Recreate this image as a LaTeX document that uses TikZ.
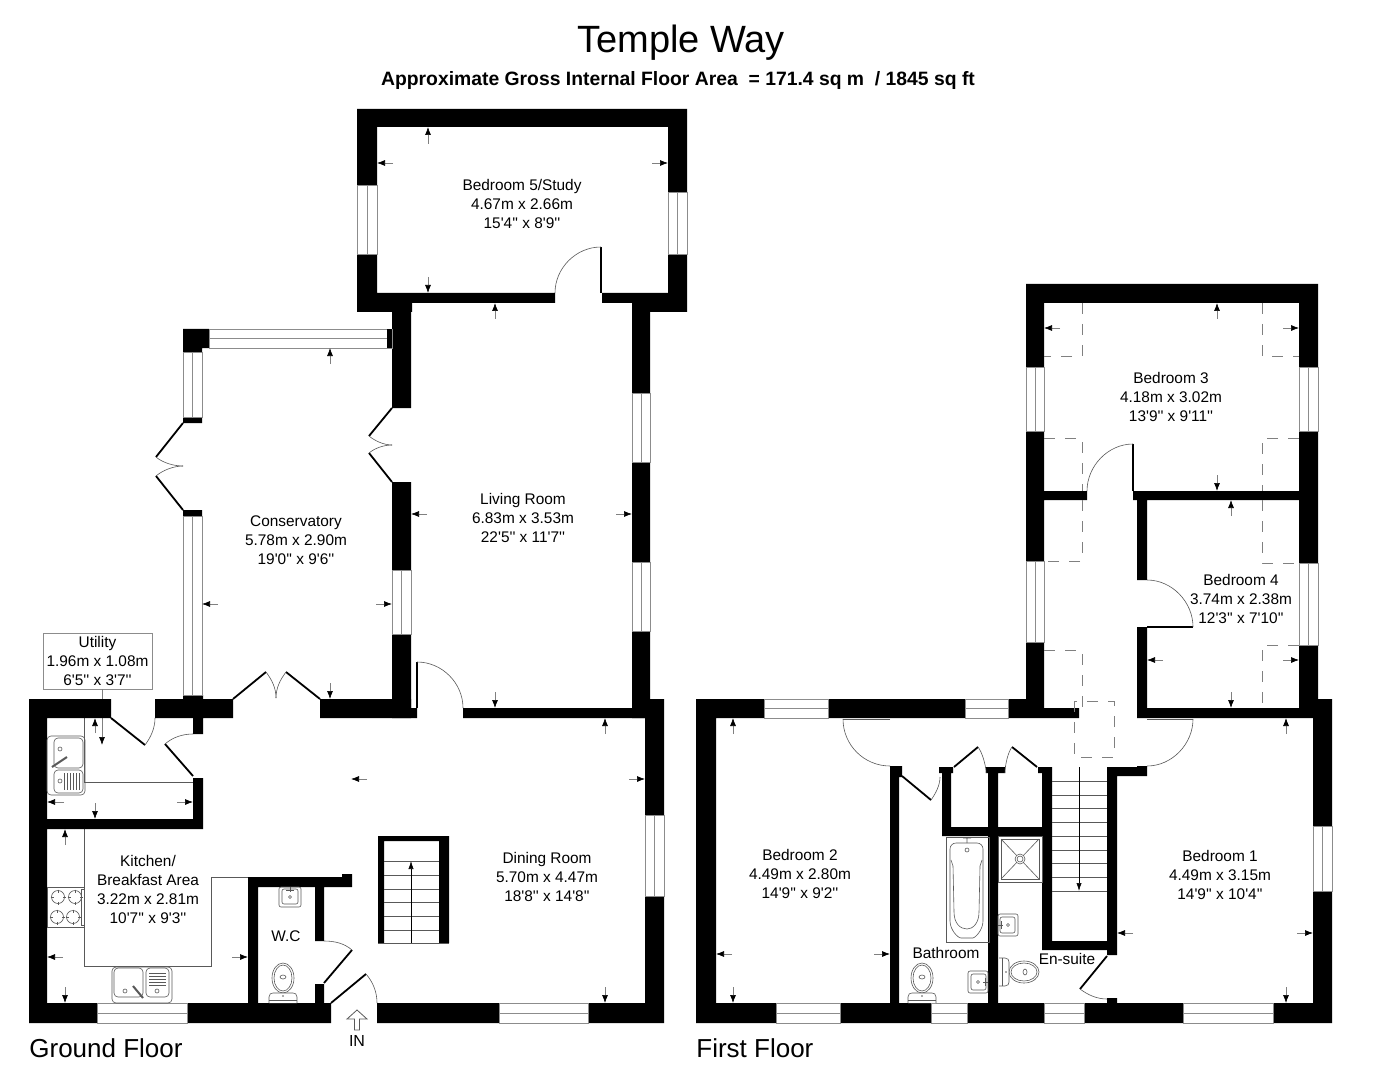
\documentclass[tikz,border=0pt]{standalone}
\usepackage{fontspec}
\setmainfont{Liberation Sans}[Ligatures=TeXOff]
\usetikzlibrary{arrows.meta}
\tikzset{>=latex}
\definecolor{fixture}{gray}{0.35}
\definecolor{glazing}{gray}{0.55}
\tikzset{
  wall/.style={fill=black},
  win/.style={draw=glazing,fill=white,line width=0.45pt},
  leaf/.style={black,line width=0.9pt},
  swing/.style={fixture,line width=0.3pt},
  dimline/.style={draw=gray,line width=0.35pt,-{Latex[black,length=4pt,width=3pt]}},
  ware/.style={draw=fixture,line width=0.3pt},
  slope/.style={draw=gray,line width=0.4pt,dash pattern=on 5.5pt off 5pt},
  roomlabel/.style={align=center,font=\fontsize{7.7}{9.5}\selectfont,inner sep=0pt},
  floorlabel/.style={anchor=west,font=\fontsize{13}{15}\selectfont,inner sep=0pt},
  toilet/.pic={
    \draw[ware] (0,-25) ellipse (11 and 15);
    \draw[ware] (0,-25) ellipse (9 and 13);
    \draw[ware] (0,-26) ellipse (3 and 2);
    \draw[ware,fill=white] (-14,0) -- (-14,-6) .. controls (-14,-9) and (-12,-10) .. (-10,-10)
      -- (10,-10) .. controls (12,-10) and (14,-9) .. (14,-6) -- (14,0);
    \draw[ware] (-14,-3) -- (14,-3);
    \fill[fixture] (0,-7) circle (0.9);
  },
  basin/.pic={
    \draw[ware,rounded corners=1pt] (-11,0) rectangle (11,20);
    \draw[ware,rounded corners=1pt] (-8,2) rectangle (8,17);
    \draw[ware] (0,0) -- (0,5) (-4,3) -- (4,3);
    \draw[ware] (0,10) circle (1.5);
  },
  burner/.pic={
    \draw[ware] (0,0) circle (6.5);
    \draw[ware] (-7.5,0) -- (-4.5,0) (7.5,0) -- (4.5,0) (0,-7.5) -- (0,-4.5) (0,7.5) -- (0,4.5);
  },
}
\newcommand{\WinH}[4]{\draw[win] (#1,#3) rectangle (#2,#4); \draw[glazing,line width=0.45pt] (#1,{(#3+#4)/2}) -- (#2,{(#3+#4)/2});}
\newcommand{\WinV}[4]{\draw[win] (#1,#3) rectangle (#2,#4); \draw[glazing,line width=0.45pt] ({(#1+#2)/2},#3) -- ({(#1+#2)/2},#4);}

\begin{document}
\begin{tikzpicture}[x=0.5pt,y=-0.5pt]
  \useasboundingbox[fill=white] (0,0) rectangle (1374,1080);

  % titles
  \node[inner sep=0pt,font=\fontsize{19}{21}\selectfont] (title) at (681,42.5) {Temple Way};
  \node[inner sep=0pt,font=\fontsize{9.67}{11}\selectfont\bfseries] (area) at (678,80.5) {Approximate Gross Internal Floor Area\ \ = 171.4 sq m\ \ / 1845 sq ft};
  \node[floorlabel] (ground) at (29,1048) {Ground Floor};
  \node[floorlabel] (first) at (696,1048) {First Floor};

  % worktops
  \draw[ware] (84,718) -- (84,782) -- (193,782);
  \draw[ware] (84,829) -- (84,966) -- (211,966) -- (211,877) -- (248,877);

  % utility label and its leader
  \node[draw=glazing,line width=0.4pt,roomlabel,minimum width=54.5pt,minimum height=28pt] (utility) at (97.5,661) {Utility\\1.96m x 1.08m\\6'5'' x 3'7''};
  \coordinate (utilitytip) at (102,745);
  \draw[dimline] (utility.south -| utilitytip) -- (utilitytip);

  % ground floor walls
  \fill[wall] (29,699) rectangle (47,1023) (29,1003) rectangle (331,1023)
    (29,699) rectangle (111,718) (155,699) rectangle (233,718)
    (183,695) rectangle (203,718) (193,718) rectangle (203,734)
    (320,699) rectangle (411,718) (411,708) rectangle (417,718)
    (193,778) rectangle (203,829)
    (47,819) rectangle (203,829) (248,877) rectangle (258,1003)
    (248,877) rectangle (352,887) (342,874) rectangle (352,887)
    (315,887) rectangle (324,941) (315,984) rectangle (324,1003)
    (377,1003) rectangle (664,1023) (645,699) rectangle (664,1023)
    (463,708) rectangle (645,718);
  \fill[wall] (392,303) rectangle (411,408) (392,482) rectangle (411,718)
    (357,109) rectangle (687,127) (357,109) rectangle (377,312)
    (668,109) rectangle (687,312) (377,293) rectangle (555,303)
    (602,293) rectangle (668,303) (357,303) rectangle (412,312)
    (632,293) rectangle (650,718) (632,303) rectangle (687,312);
  \fill[wall] (183,329) rectangle (209,348) (183,329) rectangle (202,352)
    (183,417) rectangle (202,423) (183,510) rectangle (202,516);

  % ground floor windows
  \WinH{209}{392}{329}{348}
  \fill[wall] (387,329) rectangle (392,348);
  \WinV{183}{202}{352}{417}
  \WinV{183}{202}{516}{695}
  \WinV{392}{411}{570}{634}
  \WinV{357}{377}{185}{254}
  \WinV{668}{687}{192}{254}
  \WinV{632}{650}{393}{462}
  \WinV{632}{650}{562}{631}
  \WinV{645}{664}{815}{896}
  \WinH{97}{187}{1003}{1023}
  \WinH{499}{588}{1003}{1023}

  % ground floor doors
  \draw[leaf] (601,293) -- (601,247);
  \draw[swing] (601,247) .. controls (576,247) and (555,268) .. (555,293);
  \draw[leaf] (417,708) -- (417,662);
  \draw[swing] (417,662) .. controls (442,662) and (463,683) .. (463,708);
  \draw[leaf] (111,718) -- (145,745);
  \draw[swing] (145,745) .. controls (151,737) and (155,728) .. (155,718);
  \draw[leaf] (193,776) -- (165,744);
  \draw[swing] (165,744) .. controls (173,737) and (183,734) .. (193,734);
  \draw[leaf] (324,983) -- (352,950);
  \draw[swing] (352,950) .. controls (344,943) and (334,941) .. (324,941);
  \draw[leaf] (331,1003) -- (366,974);
  \draw[swing] (366,974) .. controls (373,982) and (377,992) .. (377,1003);
  \draw[leaf] (233,699) -- (266,672) (320,699) -- (286,672);
  \draw[swing] (266,672) .. controls (272,680) and (276,688) .. (276,698);
  \draw[swing] (286,672) .. controls (280,680) and (276,688) .. (276,698);
  \draw[leaf] (392,408) -- (369,436) (392,482) -- (369,453);
  \draw[swing] (369,436) .. controls (375,441) and (384,445) .. (392,445);
  \draw[swing] (369,453) .. controls (375,448) and (384,445) .. (392,445);
  \draw[leaf] (183,423) -- (156,457) (183,510) -- (156,476);
  \draw[swing] (156,457) .. controls (163,463) and (174,466) .. (183,466);
  \draw[swing] (156,476) .. controls (163,470) and (174,466) .. (183,466);

  % ground floor stairs
  \fill[wall] (378,836) rectangle (449,841) (378,836) rectangle (384,943) (439,836) rectangle (449,943);
  \draw[ware] (384,861) -- (439,861) (384,875) -- (439,875) (384,889) -- (439,889)
    (384,902) -- (439,902) (384,916) -- (439,916) (384,930) -- (439,930) (378,943) -- (449,943);
  \draw[black,line width=0.3pt,-{Latex[length=4pt,width=2.6pt]}] (411,943) -- (411,861);

  % utility sink
  \draw[ware,rounded corners=2pt] (47,736) rectangle (85,795);
  \draw[ware,rounded corners=2pt] (54,738) rectangle (83,768);
  \draw[ware,rounded corners=2pt] (54,770) rectangle (83,793);
  \draw[ware] (60,749) circle (2) (60,781) circle (2);
  \draw[fixture,line width=1pt] (52,767) -- (67,757);
  \draw[ware] (64,773) -- (64,790) (67,773) -- (67,790) (70,773) -- (70,790) (73,773) -- (73,790) (76,773) -- (76,790) (79,773) -- (79,790);

  % kitchen sink
  \draw[ware,rounded corners=2pt] (112,967) rectangle (172,1003);
  \draw[ware,rounded corners=2pt] (114,968) rectangle (143,997);
  \draw[ware,rounded corners=2pt] (146,968) rectangle (169,997);
  \draw[ware] (125,991) circle (2) (157,991) circle (2);
  \draw[fixture,line width=1pt] (133,986) -- (143,998);
  \draw[ware] (149,973) -- (166,973) (149,976) -- (166,976) (149,979) -- (166,979) (149,982) -- (166,982) (149,985) -- (166,985);

  % hob
  \draw[ware] (47,887) rectangle (84,927) (81,889) rectangle (84,925);
  \pic at (58,897) {burner};
  \pic at (75,897) {burner};
  \pic at (57,917) {burner};
  \pic at (73,917) {burner};

  % wc
  \pic at (290,887) {basin};
  \pic at (283,1003) {toilet};

  % first floor walls
  \fill[wall] (696,699) rectangle (716,1023) (696,1003) rectangle (1332,1023)
    (696,699) rectangle (1044,718) (1044,708) rectangle (1079,718)
    (1026,284) rectangle (1318,303) (1026,284) rectangle (1044,708)
    (1299,284) rectangle (1318,708) (1044,491) rectangle (1087,500)
    (1133,491) rectangle (1299,500) (1137,500) rectangle (1147,580)
    (1137,627) rectangle (1147,718) (1137,708) rectangle (1332,718)
    (1313,699) rectangle (1332,1023);
  \fill[wall] (890,766) rectangle (899,1003) (890,766) rectangle (902,777)
    (942,767) rectangle (951,836) (939,767) rectangle (953,773)
    (942,827) rectangle (1052,836) (988,767) rectangle (998,1003)
    (986,767) rectangle (1005,773) (1042,767) rectangle (1052,950)
    (1038,767) rectangle (1052,773) (1042,941) rectangle (1117,950)
    (1107,767) rectangle (1117,955) (1107,767) rectangle (1147,776)
    (1137,766) rectangle (1147,776) (1107,998) rectangle (1117,1003);

  % first floor windows
  \WinH{764}{828}{699}{718}
  \WinH{965}{1008}{699}{718}
  \WinH{776}{840}{1003}{1023}
  \WinH{931}{967}{1003}{1023}
  \WinH{1044}{1084}{1003}{1023}
  \WinH{1183}{1273}{1003}{1023}
  \WinV{1026}{1044}{367}{431}
  \WinV{1026}{1044}{561}{642}
  \WinV{1299}{1318}{367}{431}
  \WinV{1299}{1318}{563}{645}
  \WinV{1313}{1332}{826}{891}

  % sloped ceilings
  \draw[slope] (1082,303) -- (1082,356) -- (1044,356);
  \draw[slope] (1262,303) -- (1262,356) -- (1299,356);
  \draw[slope] (1044,438) -- (1082,438) -- (1082,491);
  \draw[slope] (1082,500) -- (1082,561) -- (1044,561);
  \draw[slope] (1299,438) -- (1262,438) -- (1262,491);
  \draw[slope] (1262,500) -- (1262,563) -- (1299,563);
  \draw[slope] (1299,645) -- (1262,645) -- (1262,708);
  \draw[slope] (1044,650) -- (1082,650) -- (1082,708);
  \draw[slope] (1074,701) rectangle (1114,757);

  % first floor doors
  \draw[leaf] (1133,491) -- (1133,444);
  \draw[swing] (1133,444) .. controls (1108,444) and (1087,466) .. (1087,491);
  \draw[leaf] (1147,627) -- (1193,627);
  \draw[swing] (1193,627) .. controls (1193,602) and (1172,580) .. (1147,580);
  \draw[ware,line width=0.5pt] (1147,719.5) -- (1193,719.5);
  \draw[swing] (1193,719) .. controls (1193,744) and (1172,766) .. (1147,766);
  \draw[ware,line width=0.5pt] (890,719.5) -- (843,719.5);
  \draw[swing] (843,719) .. controls (843,745) and (864,766) .. (890,766);
  \draw[leaf] (902,776) -- (931,800);
  \draw[swing] (931,800) .. controls (936,793) and (940,785) .. (940,777);
  \draw[leaf] (954,767) -- (978,747) (1037,767) -- (1012,747);
  \draw[swing] (978,747) .. controls (982,752) and (986,765) .. (986,773);
  \draw[swing] (1012,747) .. controls (1008,752) and (1005,765) .. (1005,773);
  \draw[leaf] (1107,956) -- (1080,989);
  \draw[swing] (1080,989) .. controls (1088,995) and (1097,999) .. (1107,999);

  % first floor stairs
  \draw[ware] (1052,781) -- (1107,781) (1052,795) -- (1107,795) (1052,808) -- (1107,808)
    (1052,822) -- (1107,822) (1052,836) -- (1107,836) (1052,850) -- (1107,850)
    (1052,863) -- (1107,863) (1052,877) -- (1107,877) (1052,891) -- (1107,891);
  \draw[black,line width=0.3pt,-{Latex[length=4pt,width=2.6pt]}] (1079,767) -- (1079,891);

  % bath
  \draw[fixture,line width=0.5pt] (946,837) rectangle (989,942);
  \draw[ware,rounded corners=3pt] (950,843) -- (983,843) -- (983,915)
    .. controls (983,930) and (975,938) .. (967,938) .. controls (958,938) and (950,930) .. (950,915) -- cycle;
  \draw[ware] (951,860) -- (953,866) -- (954,912)
    .. controls (954,923) and (960,929) .. (967,929) .. controls (973,929) and (979,923) .. (979,912)
    -- (980,866) -- (982,860);
  \draw[ware] (967,850) circle (2) (963,838) -- (971,838) (967,838) -- (967,843);

  % shower
  \draw[ware] (998,836) rectangle (1042,882) (1001,839) rectangle (1039,879);
  \draw[ware] (1001,839) -- (1039,879) (1039,839) -- (1001,879);
  \draw[ware,fill=white] (1020,859) circle (5) (1020,859) circle (3);

  % bathroom and en-suite ware
  \pic[rotate=90] at (998,925) {basin};
  \pic[rotate=-90] at (988,982) {basin};
  \pic at (922,1003) {toilet};
  \pic[rotate=-90] at (999,972) {toilet};

  % dimension arrows
  \draw[dimline] (428,144) -- (428,127);
  \draw[dimline] (393,163) -- (377,163);
  \draw[dimline] (652,163) -- (668,163);
  \draw[dimline] (428,277) -- (428,293);
  \draw[dimline] (495,319) -- (495,303);
  \draw[dimline] (330,364) -- (330,348);
  \draw[dimline] (218,604) -- (202,604);
  \draw[dimline] (376,604) -- (392,604);
  \draw[dimline] (330,683) -- (330,699);
  \draw[dimline] (427,514) -- (411,514);
  \draw[dimline] (616,514) -- (632,514);
  \draw[dimline] (495,692) -- (495,708);
  \draw[dimline] (605,734) -- (605,718);
  \draw[dimline] (629,779) -- (645,779);
  \draw[dimline] (367,779) -- (351,779);
  \draw[dimline] (605,987) -- (605,1003);
  \draw[dimline] (95,733) -- (95,718);
  \draw[dimline] (64,802) -- (47,802);
  \draw[dimline] (177,802) -- (193,802);
  \draw[dimline] (95,803) -- (95,819);
  \draw[dimline] (65,845) -- (65,829);
  \draw[dimline] (63,957) -- (47,957);
  \draw[dimline] (232,957) -- (248,957);
  \draw[dimline] (65,987) -- (65,1003);
  \draw[dimline] (733,734) -- (733,718);
  \draw[dimline] (732,954) -- (716,954);
  \draw[dimline] (874,954) -- (890,954);
  \draw[dimline] (733,987) -- (733,1003);
  \draw[dimline] (1286,734) -- (1286,718);
  \draw[dimline] (1133,933) -- (1117,933);
  \draw[dimline] (1297,933) -- (1313,933);
  \draw[dimline] (1286,987) -- (1286,1003);
  \draw[dimline] (1217,319) -- (1217,303);
  \draw[dimline] (1060,328) -- (1044,328);
  \draw[dimline] (1283,328) -- (1299,328);
  \draw[dimline] (1217,475) -- (1217,491);
  \draw[dimline] (1231,516) -- (1231,500);
  \draw[dimline] (1163,660) -- (1147,660);
  \draw[dimline] (1283,660) -- (1299,660);
  \draw[dimline] (1231,692) -- (1231,708);

  % way in
  \draw[ware,line width=0.4pt] (354.5,1030) -- (354.5,1019) -- (347,1019) -- (357,1010) -- (367,1019) -- (359.5,1019) -- (359.5,1030) -- cycle;
  \node[inner sep=0pt,font=\fontsize{8}{10}\selectfont] (wayin) at (357,1041) {IN};

  % room labels
  \node[roomlabel] (bedfive) at (522,204) {Bedroom 5/Study\\4.67m x 2.66m\\15'4'' x 8'9''};
  \node[roomlabel] (living) at (523,518) {Living Room\\6.83m x 3.53m\\22'5'' x 11'7''};
  \node[roomlabel] (conservatory) at (296,540) {Conservatory\\5.78m x 2.90m\\19'0'' x 9'6''};
  \node[roomlabel] (kitchen) at (148,889) {Kitchen/\\Breakfast Area\\3.22m x 2.81m\\10'7'' x 9'3''};
  \node[roomlabel] (wc) at (286,936) {W.C};
  \node[roomlabel] (dining) at (547,877) {Dining Room\\5.70m x 4.47m\\18'8'' x 14'8''};
  \node[roomlabel] (bedtwo) at (800,874) {Bedroom 2\\4.49m x 2.80m\\14'9'' x 9'2''};
  \node[roomlabel] (bedone) at (1220,875) {Bedroom 1\\4.49m x 3.15m\\14'9'' x 10'4''};
  \node[roomlabel] (bedthree) at (1171,397) {Bedroom 3\\4.18m x 3.02m\\13'9'' x 9'11''};
  \node[roomlabel] (bedfour) at (1241,599) {Bedroom 4\\3.74m x 2.38m\\12'3'' x 7'10''};
  \node[roomlabel] (bathroom) at (946,953) {Bathroom};
  \node[roomlabel] (ensuite) at (1067,959) {En-suite};
\end{tikzpicture}
\end{document}
